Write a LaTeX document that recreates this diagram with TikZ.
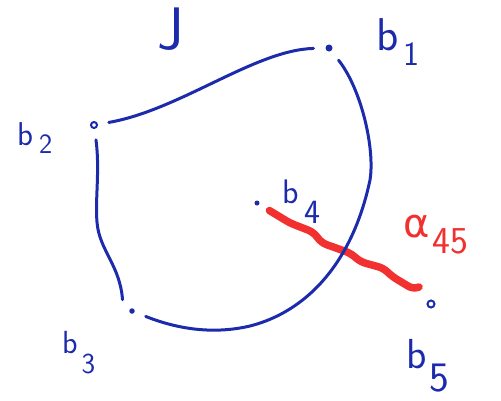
\documentclass[tikz,border=0pt]{standalone}
\usepackage{fontspec}
\newfontfamily\greekfont{DejaVu Sans}
\definecolor{penblue}{RGB}{28,42,172}
\definecolor{penred}{RGB}{242,48,48}
\newcommand{\blab}[5]{\fontsize{#1}{#1}\selectfont b\hspace{#4}\raisebox{#5}{\fontsize{#3}{#3}\selectfont #2}}
\begin{document}
\begin{tikzpicture}[x=1pt,y=-1pt,
  pen/.style={draw=penblue, line width=3pt, line cap=round, line join=round},
  redpen/.style={draw=penred, line width=7.5pt, line cap=round, line join=round, rounded corners=5pt},
  fdot/.style={circle, fill=penblue, inner sep=0pt, minimum size=#1, outer sep=12pt},
  rdot/.style={circle, draw=penblue, line width=2pt, inner sep=0pt, minimum size=#1, outer sep=12pt},
  lab/.style={anchor=base west, inner sep=0pt, text=penblue, font=\sffamily}
]
\useasboundingbox (0,0) rectangle (501,400);
% points
\node[fdot=7pt] (b1) at (329,48) {};
\node[rdot=6pt] (b2) at (94,125) {};
\node[fdot=5.5pt] (b3) at (132,311) {};
\node[fdot=5pt] (b4) at (257,203) {};
\node[rdot=7pt] (b5) at (431,304) {};
% labels
\node[lab] (l1) at (376,50) {\blab{46}{1}{34}{5pt}{-15pt}};
\node[lab] (l2) at (17,145) {\blab{33}{2}{28}{6pt}{-8pt}};
\node[lab] (l3) at (62,353) {\blab{32}{3}{29}{4pt}{-20pt}};
\node[lab] (l4) at (282,203) {\blab{34}{4}{34}{6pt}{-20pt}};
\node[lab] (l5) at (406,368) {\blab{42}{5}{42}{3pt}{-23pt}};
\node[anchor=base, inner sep=0pt, text=penblue, font=\sffamily\fontsize{60}{60}\selectfont] (J) at (171,49) {J};
\node[anchor=base west, inner sep=0pt, text=penred] (alpha) at (403,237)
  {\greekfont\fontsize{40}{40}\selectfont α\hspace{3pt}\raisebox{-16pt}{\sffamily\fontsize{38}{38}\selectfont 45}};
% red connector
\coordinate (r9) at (419,287);
\draw[redpen] (b4) -- (290,223) -- (313,232) -- (322,243) -- (350,253) -- (361,262) -- (383,268) -- (393,277) -- (413,289) -- (r9);
% blue curve
\coordinate (L) at (97,222);
\coordinate (M) at (250,326);
\coordinate (R) at (370,180);
\draw[pen] (b2) .. controls (180,110) and (255,50) .. (b1);
\draw[pen] (b2) .. controls (100,170) and (95,200) .. (L) .. controls (99,250) and (120,265) .. (b3.130);
\draw[pen] (b3) .. controls (185,332) and (220,333) .. (M) .. controls (305,312) and (352,265) .. (R) .. controls (375,150) and (362,90) .. (b1);
\end{tikzpicture}
\end{document}
